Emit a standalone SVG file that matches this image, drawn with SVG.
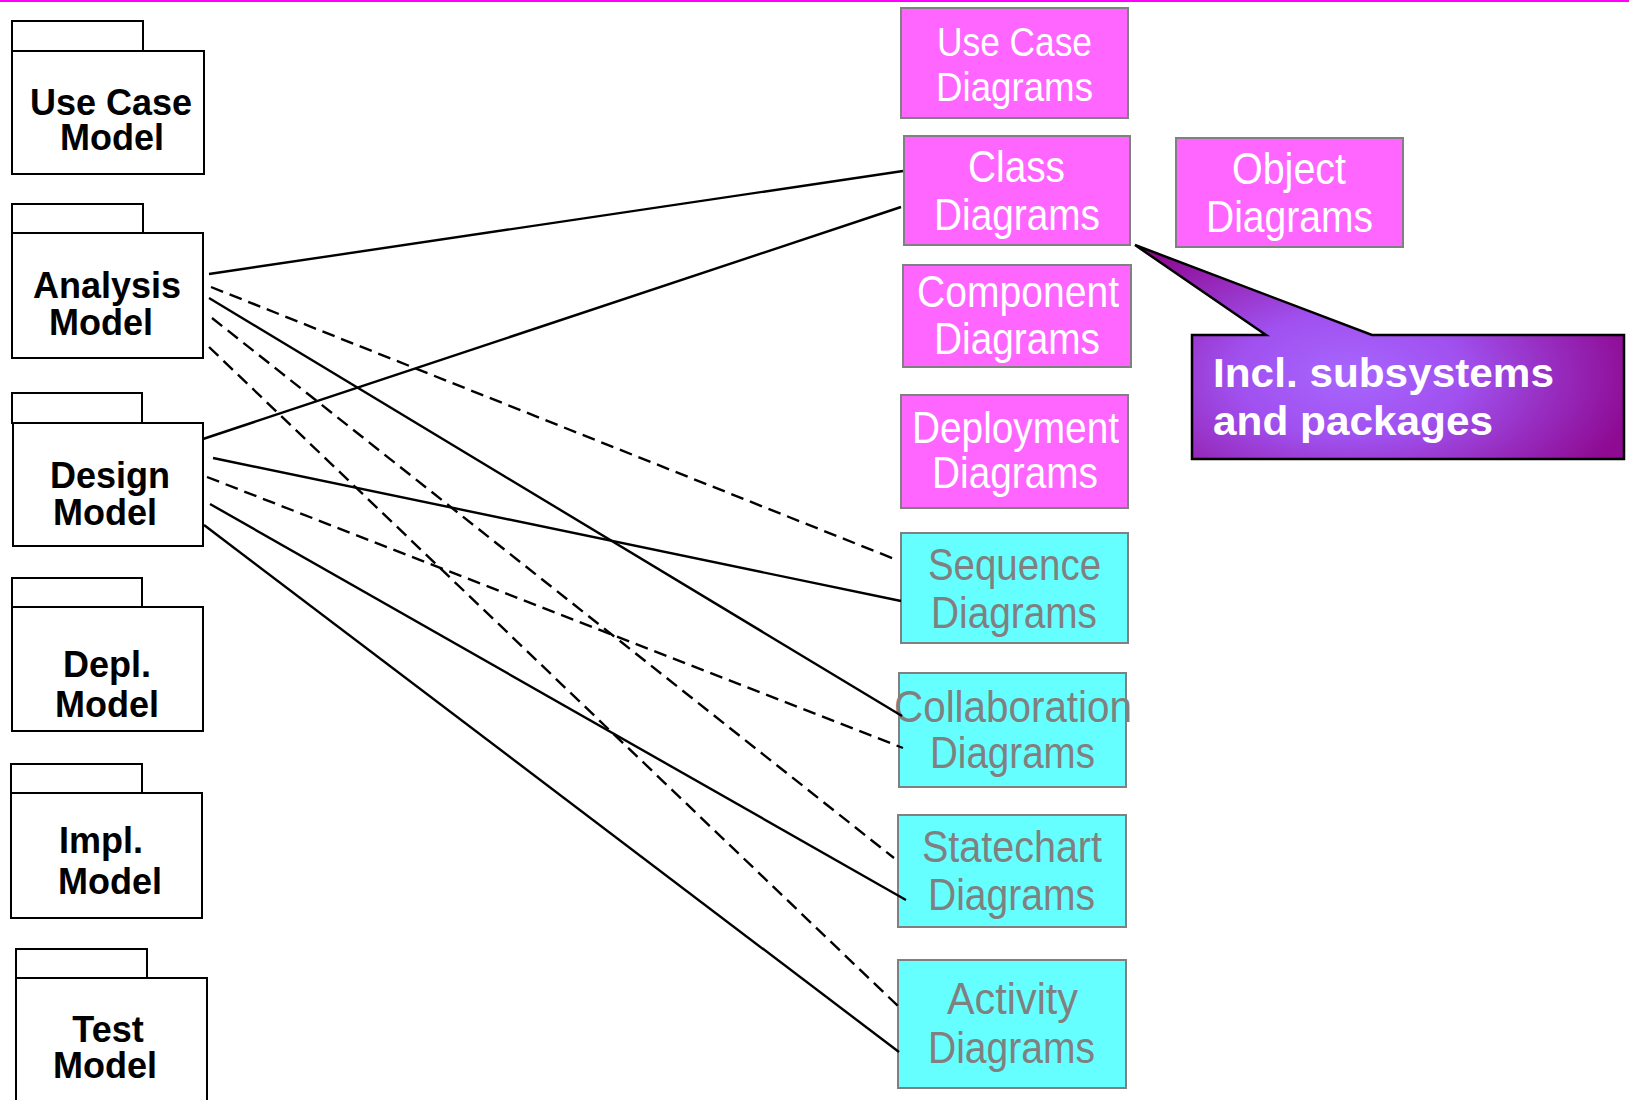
<svg xmlns="http://www.w3.org/2000/svg" width="1629" height="1100" viewBox="0 0 1629 1100">
<defs>
<radialGradient id="cg" gradientUnits="userSpaceOnUse" cx="1350" cy="375" r="290" fx="1350" fy="375" gradientTransform="translate(1350 375) scale(1 0.55) translate(-1350 -375)">
<stop offset="0" stop-color="#A866FF"/>
<stop offset="0.4" stop-color="#A050EE"/>
<stop offset="1" stop-color="#8E0A92"/>
</radialGradient>
</defs>
<style>
.pkg{fill:#fff;stroke:#000;stroke-width:2}
.pt{font-family:"Liberation Sans",Arial,sans-serif;font-weight:bold;font-size:36px;fill:#000;text-anchor:middle}
.pink{fill:#FF66FF;stroke:#808080;stroke-width:2}
.cyan{fill:#66FFFF;stroke:#808080;stroke-width:2}
.nt{font-family:"Liberation Sans",Arial,sans-serif;font-size:44px}
.w{fill:#fff}
.g{fill:#808080}
.ln{fill:none;stroke:#000;stroke-width:2.4}
.d{stroke-dasharray:13 7}
.ct{font-family:"Liberation Sans",Arial,sans-serif;font-weight:bold;font-size:41px;fill:#fff}
</style>
<rect x="0" y="0" width="1629" height="1100" fill="#fff"/>
<line x1="0" y1="1" x2="1629" y2="1" stroke="#FF00FF" stroke-width="2"/>

<g id="usecase-model">
<rect class="pkg" x="12" y="21" width="131" height="30"/>
<rect class="pkg" x="12" y="51" width="192" height="123"/>
<text class="pt" x="111" y="115">Use Case</text>
<text class="pt" x="112" y="150">Model</text>
</g>
<g id="analysis-model">
<rect class="pkg" x="12" y="204" width="131" height="29"/>
<rect class="pkg" x="12" y="233" width="191" height="125"/>
<text class="pt" x="107" y="298">Analysis</text>
<text class="pt" x="101" y="335">Model</text>
</g>
<g id="design-model">
<rect class="pkg" x="12" y="393" width="130" height="30"/>
<rect class="pkg" x="13" y="423" width="190" height="123"/>
<text class="pt" x="110" y="488">Design</text>
<text class="pt" x="105" y="525">Model</text>
</g>
<g id="depl-model">
<rect class="pkg" x="12" y="578" width="130" height="29"/>
<rect class="pkg" x="12" y="607" width="191" height="124"/>
<text class="pt" x="107" y="677">Depl.</text>
<text class="pt" x="107" y="717">Model</text>
</g>
<g id="impl-model">
<rect class="pkg" x="11" y="764" width="131" height="29"/>
<rect class="pkg" x="11" y="793" width="191" height="125"/>
<text class="pt" x="101" y="853">Impl.</text>
<text class="pt" x="110" y="894">Model</text>
</g>
<g id="test-model">
<rect class="pkg" x="16" y="949" width="131" height="29"/>
<rect class="pkg" x="16" y="978" width="191" height="140"/>
<text class="pt" x="108" y="1042">Test</text>
<text class="pt" x="105" y="1078">Model</text>
</g>

<g id="usecase-diagrams">
<rect class="pink" x="901" y="8" width="227" height="110"/>
<text class="nt w" style="font-size:41px" x="937" y="56" textLength="155" lengthAdjust="spacingAndGlyphs">Use Case</text>
<text class="nt w" style="font-size:41px" x="936" y="101" textLength="157" lengthAdjust="spacingAndGlyphs">Diagrams</text>
</g>
<g id="class-diagrams">
<rect class="pink" x="904" y="136" width="226" height="109"/>
<text class="nt w" x="968" y="182" textLength="97" lengthAdjust="spacingAndGlyphs">Class</text>
<text class="nt w" x="934" y="230" textLength="166" lengthAdjust="spacingAndGlyphs">Diagrams</text>
</g>
<g id="object-diagrams">
<rect class="pink" x="1176" y="138" width="227" height="109"/>
<text class="nt w" x="1232" y="184" textLength="114" lengthAdjust="spacingAndGlyphs">Object</text>
<text class="nt w" x="1206" y="232" textLength="167" lengthAdjust="spacingAndGlyphs">Diagrams</text>
</g>
<g id="component-diagrams">
<rect class="pink" x="903" y="265" width="228" height="102"/>
<text class="nt w" x="917" y="307" textLength="202" lengthAdjust="spacingAndGlyphs">Component</text>
<text class="nt w" x="934" y="354" textLength="166" lengthAdjust="spacingAndGlyphs">Diagrams</text>
</g>
<g id="deployment-diagrams">
<rect class="pink" x="901" y="395" width="227" height="113"/>
<text class="nt w" x="912" y="443" textLength="207" lengthAdjust="spacingAndGlyphs">Deployment</text>
<text class="nt w" x="932" y="488" textLength="166" lengthAdjust="spacingAndGlyphs">Diagrams</text>
</g>
<g id="sequence-diagrams">
<rect class="cyan" x="901" y="533" width="227" height="110"/>
<text class="nt g" x="928" y="580" textLength="173" lengthAdjust="spacingAndGlyphs">Sequence</text>
<text class="nt g" x="931" y="628" textLength="166" lengthAdjust="spacingAndGlyphs">Diagrams</text>
</g>
<g id="collaboration-diagrams">
<rect class="cyan" x="899" y="673" width="227" height="114"/>
<text class="nt g" x="894" y="722" textLength="238" lengthAdjust="spacingAndGlyphs">Collaboration</text>
<text class="nt g" x="930" y="768" textLength="165" lengthAdjust="spacingAndGlyphs">Diagrams</text>
</g>
<g id="statechart-diagrams">
<rect class="cyan" x="898" y="815" width="228" height="112"/>
<text class="nt g" x="922" y="862" textLength="180" lengthAdjust="spacingAndGlyphs">Statechart</text>
<text class="nt g" x="928" y="910" textLength="167" lengthAdjust="spacingAndGlyphs">Diagrams</text>
</g>
<g id="activity-diagrams">
<rect class="cyan" x="898" y="960" width="228" height="128"/>
<text class="nt g" x="947" y="1014" textLength="131" lengthAdjust="spacingAndGlyphs">Activity</text>
<text class="nt g" x="928" y="1063" textLength="167" lengthAdjust="spacingAndGlyphs">Diagrams</text>
</g>

<g id="callout">
<path d="M1192,335 L1266,335 L1135,245 L1372,335 L1624,335 L1624,459 L1192,459 Z" fill="url(#cg)" stroke="#000" stroke-width="2.5" stroke-linejoin="miter"/>
<text class="ct" x="1213" y="387" textLength="341" lengthAdjust="spacingAndGlyphs">Incl. subsystems</text>
<text class="ct" x="1213" y="435" textLength="280" lengthAdjust="spacingAndGlyphs">and packages</text>
</g>

<g id="connectors">
<line class="ln" x1="209" y1="274" x2="903" y2="171"/>
<line class="ln d" x1="211" y1="287" x2="897" y2="560"/>
<line class="ln" x1="209" y1="298" x2="902" y2="716"/>
<line class="ln d" x1="212" y1="318" x2="894" y2="858"/>
<line class="ln d" x1="209" y1="347" x2="899" y2="1007"/>
<line class="ln" x1="203" y1="439" x2="901" y2="207"/>
<line class="ln" x1="213" y1="458" x2="901" y2="601"/>
<line class="ln d" x1="207" y1="477" x2="903" y2="748"/>
<line class="ln" x1="210" y1="504" x2="906" y2="900"/>
<line class="ln" x1="204" y1="525" x2="899" y2="1052"/>
</g>
</svg>
